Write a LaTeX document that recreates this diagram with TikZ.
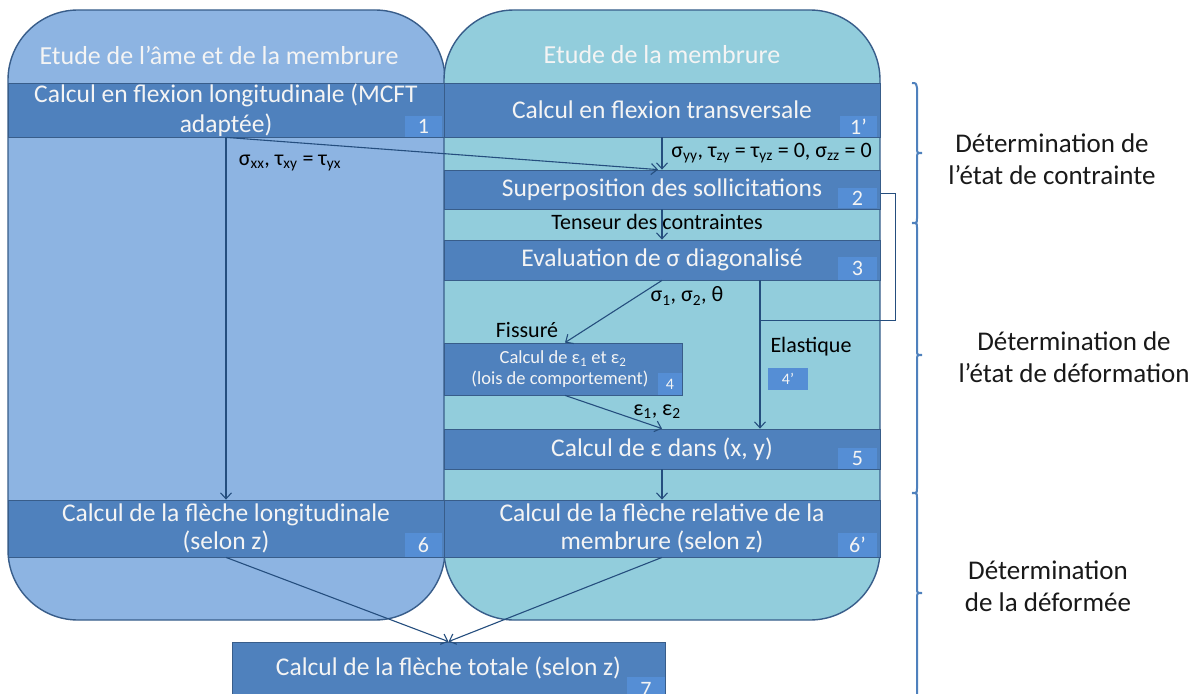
\documentclass[tikz,border=0pt]{standalone}
\usepackage{fontspec}
\setmainfont{Carlito}
\usetikzlibrary{arrows.meta}
\newcommand\fsz[2]{\fontsize{#1}{#2}\selectfont}
\newcommand\sbs[1]{\textsubscript{#1}}
\definecolor{panL}{HTML}{8DB4E2}
\definecolor{panR}{HTML}{92CDDC}
\definecolor{bandc}{HTML}{4F81BD}
\definecolor{bord}{HTML}{385D8A}
\definecolor{numc}{HTML}{558ED5}
\definecolor{arrc}{HTML}{254E7E}
\definecolor{wtxt}{HTML}{F4F4F4}
\definecolor{bracec}{HTML}{4F81BD}
\tikzset{
  panel/.style={draw=bord, line width=1.4pt, rounded corners=70pt},
  band/.style={draw=bord, line width=0.8pt, fill=bandc, text=wtxt, inner sep=0pt, align=center, font=\fsz{25.5}{28}},
  numbox/.style={fill=numc, text=wtxt, inner sep=0pt, font=\fsz{22}{24}},
  lbl/.style={text=black, inner sep=0pt, font=\fsz{22}{24}},
  arr/.style={draw=arrc, line width=1.1pt, -{Straight Barb[length=6pt,width=11pt,line width=1.1pt]}},
  ln/.style={draw=arrc, line width=1.1pt},
  bracepath/.style={draw=bracec, line width=2pt},
  sidetxt/.style={text=black!90, align=center, inner sep=0pt, font=\fsz{27}{32}}
}
\begin{document}
\begin{tikzpicture}[x=1pt,y=-1pt]
\useasboundingbox (0,0) rectangle (1201,693);
\clip (0,0) rectangle (1201,693);
\fill[white] (0,0) rectangle (1201,693);
% panels
\path[panel, fill=panL] (8,10) rectangle (445,620);
\path[panel, fill=panR] (444,10) rectangle (880,620);
\node[text=wtxt, font=\fsz{26}{28}] (hL) at (219,55) {Etude de l’âme et de la membrure};
\node[text=wtxt, font=\fsz{26}{28}] (hR) at (662,55) {Etude de la membrure};
% bracket line behind
\coordinate (k1) at (880,193);
\coordinate (k2) at (895,193);
\coordinate (k3) at (895,320);
\coordinate (k4) at (760,320);
\draw[ln, line width=0.9pt] (k1) -- (k2) -- (k3) -- (k4);
% bands
\node[band, minimum width=436pt, minimum height=54pt, font=\fsz{25.5}{30}] (b1) at (226,110) {Calcul en flexion longitudinale (MCFT\\adaptée)};
\node[numbox, minimum width=37pt, minimum height=21pt] (n1) at (423.5,126.5) {1};
\node[band, minimum width=436pt, minimum height=54pt] (b1p) at (662,110) {Calcul en flexion transversale};
\node[numbox, minimum width=37pt, minimum height=21pt] (n1p) at (858.5,126.5) {1’};
\node[band, minimum width=436pt, minimum height=39pt] (b2) at (662,189.5) {Superposition des sollicitations};
\node[numbox, minimum width=39pt, minimum height=20pt] (n2) at (857.5,198) {2};
\node[band, minimum width=436pt, minimum height=40pt] (b3) at (662,260) {Evaluation de σ diagonalisé};
\node[numbox, minimum width=39pt, minimum height=23pt] (n3) at (857.5,268.5) {3};
\node[band, minimum width=238pt, minimum height=52pt, font=\fsz{18.5}{21}] (b4) at (563,369) {Calcul de ε\sbs{1} et ε\sbs{2}\\\hspace*{-6pt}(lois de comportement)};
\node[numbox, minimum width=24pt, minimum height=22pt, font=\fsz{16}{18}] (n4) at (670,384) {4};
\node[numbox, minimum width=40pt, minimum height=22pt, font=\fsz{16}{18}] (n4p) at (788,379) {4’};
\node[band, minimum width=436pt, minimum height=40pt] (b5) at (662,449) {Calcul de ε dans (x, y)};
\node[numbox, minimum width=39pt, minimum height=21pt] (n5) at (857.5,458.5) {5};
\node[band, minimum width=436pt, minimum height=57pt] (b6) at (226,528.5) {Calcul de la flèche longitudinale\\(selon z)};
\node[numbox, minimum width=37pt, minimum height=24pt] (n6) at (423.5,545) {6};
\node[band, minimum width=436pt, minimum height=57pt] (b6p) at (662,528.5) {Calcul de la flèche relative de la\\membrure (selon z)};
\node[numbox, minimum width=39pt, minimum height=24pt] (n6p) at (857.5,545) {6’};
\node[band, minimum width=433pt, minimum height=52pt] (b7) at (448.5,668) {Calcul de la flèche totale (selon z)};
\node[numbox, minimum width=38pt, minimum height=24pt] (n7) at (646,689) {7};
% labels
\node[lbl] (t1) at (290,163) {σ\sbs{xx}, τ\sbs{xy} = τ\sbs{yx}};
\node[lbl, anchor=east] (t2) at (872,153) {σ\sbs{yy}, τ\sbs{zy} = τ\sbs{yz} = 0, σ\sbs{zz} = 0};
\node[lbl] (t3) at (657,222) {Tenseur des contraintes};
\node[lbl] (t4) at (687,296) {σ\sbs{1}, σ\sbs{2}, θ};
\node[lbl] (t5) at (527,330) {Fissuré};
\node[lbl] (t6) at (811,347) {Elastique};
\node[lbl] (t7) at (657,412) {ε\sbs{1}, ε\sbs{2}};
% connectors
\draw[arr] (b1.south) -- (b6.north);
\draw[arr] (b1.south) -- ([xshift=-4pt]b2.north);
\draw[arr] (b1p.south) -- (b2.north);
\draw[arr] (b2.south) -- (b3.north);
\draw[arr] (b3.south) -- ([xshift=2pt]b4.north);
\coordinate (e0) at (760,280);
\draw[arr] (e0) -- (e0 |- b5.north);
\draw[arr] ([xshift=2pt]b4.south) -- (b5.north);
\draw[arr] (b5.south) -- (b6p.north);
\draw[arr] (b6.south) -- (b7.north);
\draw[arr] (b6p.south) -- (b7.north);
% braces
\draw[bracepath] (912,83) .. controls (916,83) .. (917,88) -- (917,148) .. controls (917,153) .. (922,153) .. controls (917,153) .. (917,158) -- (917,218) .. controls (917,223) .. (912,223);
\draw[bracepath] (912,223) .. controls (917,223) .. (917,228) -- (917,350) .. controls (917,355) .. (922,355) .. controls (917,355) .. (917,360) -- (917,488) .. controls (917,493) .. (912,493);
\draw[bracepath] (912,493) .. controls (917,493) .. (917,498) -- (917,588) .. controls (917,593) .. (922,593) .. controls (917,593) .. (917,598) -- (917,700);
\node[sidetxt] (s1) at (1052,159) {Détermination de\\l’état de contrainte};
\node[sidetxt] (s2) at (1074,357) {Détermination de\\l’état de déformation};
\node[sidetxt] (s3) at (1048,586) {Détermination\\de la déformée};
\end{tikzpicture}
\end{document}
